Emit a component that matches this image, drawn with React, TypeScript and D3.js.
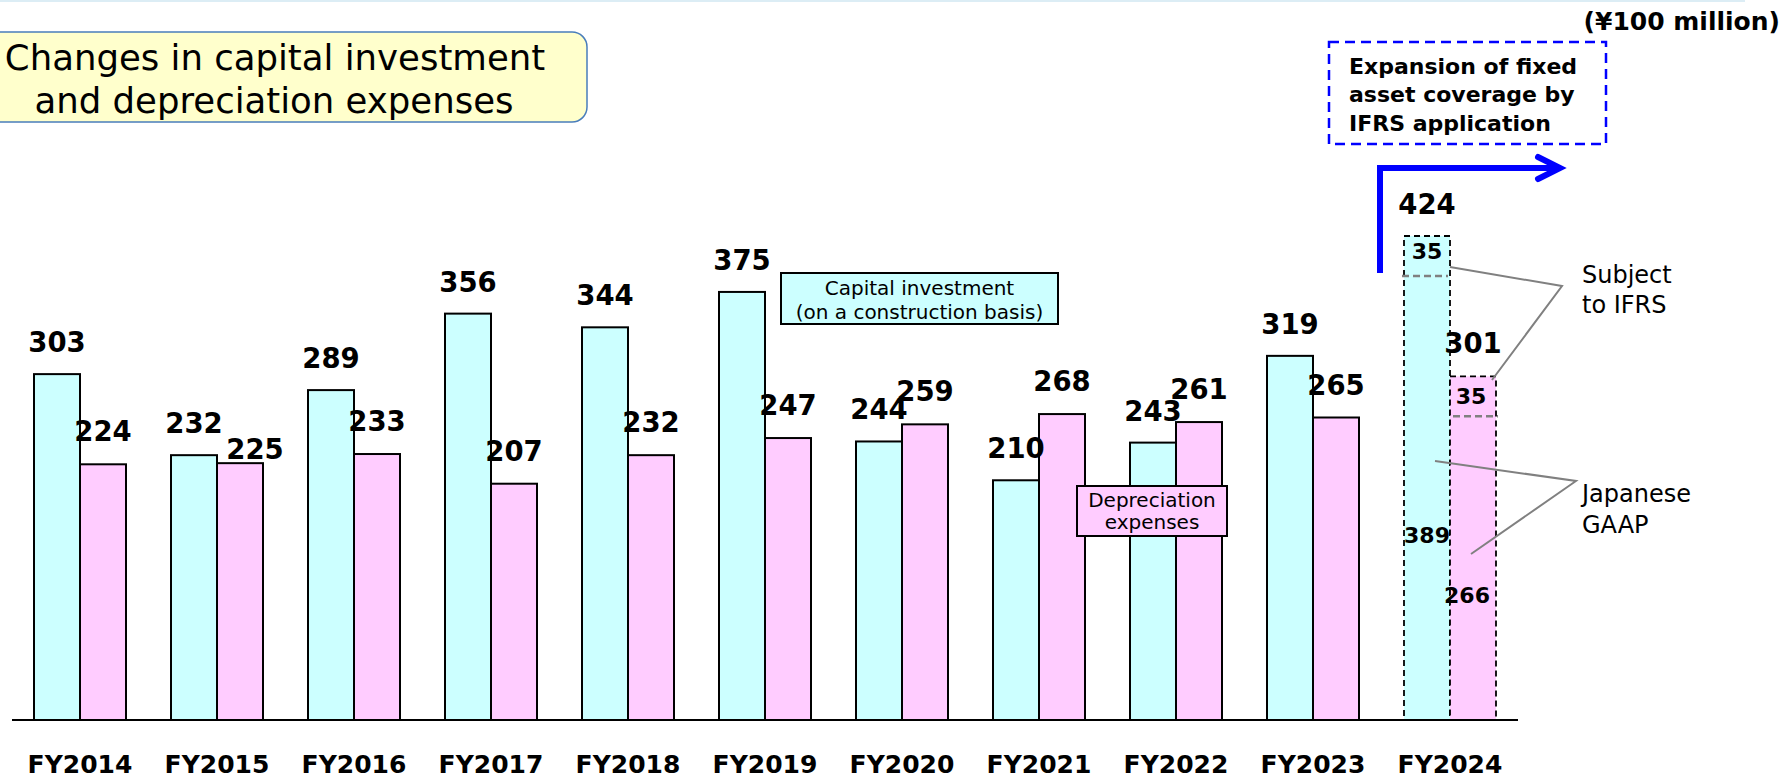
import React from "react";
import * as d3 from "d3";

const categories = ["FY2014","FY2015","FY2016","FY2017","FY2018","FY2019","FY2020","FY2021","FY2022","FY2023","FY2024"];
const capex = [303,232,289,356,344,375,244,210,243,319,424];
const depreciation = [224,225,233,207,232,247,259,268,261,265,301];
// FY2024 breakdown
const capexJGAAP2024 = 389;
const capexIFRS2024 = 35;
const depJGAAP2024 = 266;
const depIFRS2024 = 35;
// manual label nudges (dx, dy) for depreciation value labels
const depLabelNudge: [number, number][] = [[0,0],[15,19],[0,0],[0,0],[0,0],[0,0],[0,0],[0,0],[0,0],[0,0],[0,0]];

const W = 1785, H = 778;
const FONT = "'DejaVu Sans', Verdana, sans-serif";
const CYAN = "#CCFFFF";
const PINK = "#FFCCFF";

export default function App() {
  const x0 = d3.scaleBand<string>().domain(categories).range([34, 1496]).paddingInner(45 / 137).paddingOuter(0);
  const x1 = d3.scaleBand<string>().domain(["capex", "dep"]).range([0, x0.bandwidth()]);
  const y = d3.scaleLinear().domain([0, 424]).range([720, 236]);
  const bw = x1.bandwidth();
  const last = categories.length - 1;

  return (
    <svg width={W} height={H} style={{ position: "absolute", left: 0, top: 0 }} fontFamily={FONT}>
      <rect x={0} y={0} width={W} height={H} fill="#fff" />
      <line x1={0} x2={1745} y1={1} y2={1} stroke="#dcedf5" strokeWidth={2} />

      {/* title */}
      <rect x={-40} y={32} width={627} height={90} rx={15} fill="#FFFFCC" stroke="#4A7EBB" strokeWidth={1.5} />
      <text x={275} y={70} textAnchor="middle" fontSize={35.5} fill="#000">Changes in capital investment</text>
      <text x={274} y={113} textAnchor="middle" fontSize={35.5} fill="#000">and depreciation expenses</text>

      <text x={1780} y={30} textAnchor="end" fontSize={25} fontWeight="bold">(¥100 million)</text>

      {/* bars */}
      {categories.map((c, i) => {
        const gx = x0(c)!;
        const dashed = i === last;
        const cx = gx + x1("capex")!;
        const dx = gx + x1("dep")!;
        return (
          <g key={c}>
            <rect x={cx} y={y(capex[i])} width={bw} height={720 - y(capex[i])} fill={CYAN}
              stroke="#000" strokeWidth={dashed ? 1.8 : 2} strokeDasharray={dashed ? "6,4" : undefined} />
            <rect x={dx} y={y(depreciation[i])} width={bw} height={720 - y(depreciation[i])} fill={PINK}
              stroke="#000" strokeWidth={dashed ? 1.8 : 2} strokeDasharray={dashed ? "6,4" : undefined} />
            <text x={cx + bw / 2} y={y(capex[i]) - 22} textAnchor="middle" fontSize={27.5} fontWeight="bold">{capex[i]}</text>
            <text x={dx + bw / 2 + depLabelNudge[i][0]} y={y(depreciation[i]) - 23 + depLabelNudge[i][1]} textAnchor="middle" fontSize={27.5} fontWeight="bold">{depreciation[i]}</text>
            <text x={gx + x0.bandwidth() / 2} y={773} textAnchor="middle" fontSize={25} fontWeight="bold">{c}</text>
          </g>
        );
      })}

      {/* FY2024 split */}
      {(() => {
        const gx = x0(categories[last])!;
        const cx = gx + x1("capex")!;
        const dx = gx + x1("dep")!;
        return (
          <g>
            <line x1={cx - 2} x2={cx + bw - 2} y1={y(capexJGAAP2024)} y2={y(capexJGAAP2024)} stroke="#808080" strokeWidth={2.5} strokeDasharray="7,4" />
            <line x1={dx + 3} x2={dx + bw + 2} y1={y(depJGAAP2024)} y2={y(depJGAAP2024)} stroke="#808080" strokeWidth={2.5} strokeDasharray="7,4" />
            <text x={cx + bw / 2} y={y(capexJGAAP2024 + capexIFRS2024) + 23} textAnchor="middle" fontSize={22} fontWeight="bold">{capexIFRS2024}</text>
            <text x={dx + bw / 2 - 2} y={y(depJGAAP2024 + depIFRS2024) + 28} textAnchor="middle" fontSize={22} fontWeight="bold">{depIFRS2024}</text>
            <text x={cx + bw / 2} y={y(capexJGAAP2024) + 267} textAnchor="middle" fontSize={22} fontWeight="bold">{capexJGAAP2024}</text>
            <text x={dx + bw / 2 - 6} y={y(depJGAAP2024) + 187} textAnchor="middle" fontSize={22} fontWeight="bold">{depJGAAP2024}</text>
          </g>
        );
      })()}

      {/* axis */}
      <line x1={12} x2={1518} y1={720} y2={720} stroke="#000" strokeWidth={2} />

      {/* legend boxes */}
      <rect x={781} y={273} width={277} height={51} fill={CYAN} stroke="#000" strokeWidth={2} />
      <text x={919.5} y={295} textAnchor="middle" fontSize={20}>Capital investment</text>
      <text x={919.5} y={319} textAnchor="middle" fontSize={20}>(on a construction basis)</text>
      <rect x={1077} y={486} width={150} height={50} fill={PINK} stroke="#000" strokeWidth={2} />
      <text x={1152} y={507} textAnchor="middle" fontSize={20}>Depreciation</text>
      <text x={1152} y={529} textAnchor="middle" fontSize={20}>expenses</text>

      {/* IFRS expansion box & arrow */}
      <rect x={1329} y={42} width={277} height={102} fill="none" stroke="#0000FF" strokeWidth={2.5} strokeDasharray="10,6" />
      <text x={1349} y={74} fontSize={22} fontWeight="bold">Expansion of fixed</text>
      <text x={1349} y={102} fontSize={22} fontWeight="bold">asset coverage by</text>
      <text x={1349} y={131} fontSize={22} fontWeight="bold">IFRS application</text>
      <path d="M1380,273 V168 H1557" fill="none" stroke="#0000FF" strokeWidth={6} />
      <polyline points="1538,157 1560,168 1538,179" fill="none" stroke="#0000FF" strokeWidth={6} strokeLinecap="round" strokeLinejoin="miter" />

      {/* callouts */}
      <polyline points="1450,267 1562,286 1492,380" fill="none" stroke="#808080" strokeWidth={2} />
      <polyline points="1435,461 1576,481 1471,554" fill="none" stroke="#808080" strokeWidth={2} />
      <text x={1582} y={283} fontSize={24}>Subject</text>
      <text x={1582} y={313} fontSize={24}>to IFRS</text>
      <text x={1582} y={502} fontSize={24}>Japanese</text>
      <text x={1582} y={533} fontSize={24}>GAAP</text>
    </svg>
  );
}
